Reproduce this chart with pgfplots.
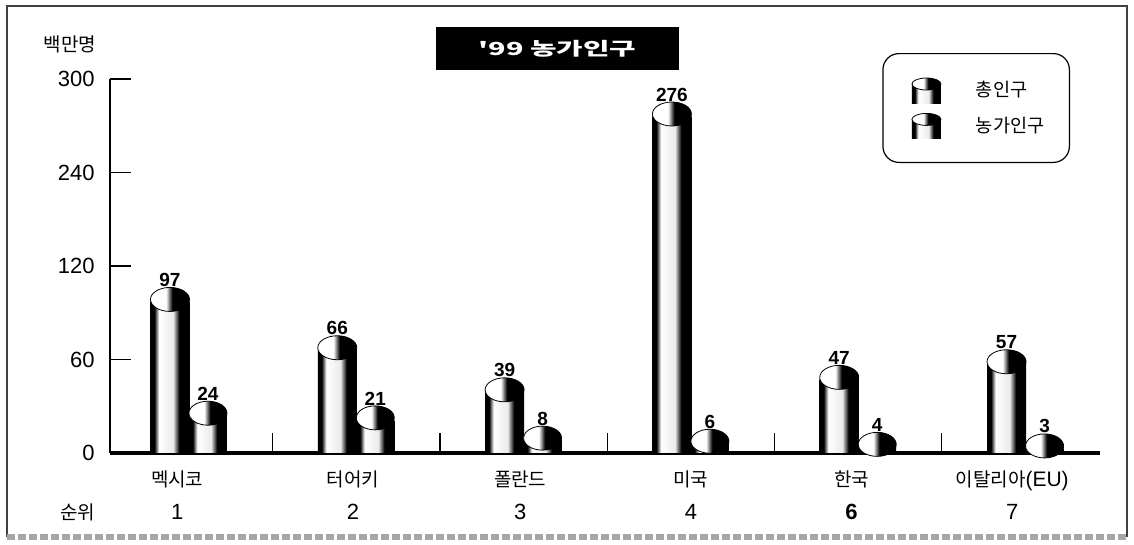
\documentclass[border=0pt]{standalone}
\usepackage{fontspec}
\setmainfont{Liberation Sans}
\newfontfamily\kr{Noto Sans CJK KR}
\usepackage{pgfplots}
\pgfplotsset{compat=1.18}
\usetikzlibrary{shapes.geometric}
\pgfdeclarehorizontalshading{cyl}{100bp}{color(0bp)=(black); color(30bp)=(black); color(36bp)=(white); color(54bp)=(white!92!black); color(62bp)=(black); color(100bp)=(black)}
\pgfdeclarehorizontalshading{capsh}{100bp}{color(0bp)=(white); color(45bp)=(white); color(53bp)=(black); color(100bp)=(black)}
\newcommand{\K}[1]{{\kr\fontsize{9.5}{11}\selectfont #1}}
\tikzset{
  capnode/.style={ellipse, draw=black, line width=0.4pt, shade, shading=capsh,
    minimum height=12pt, inner sep=0pt, yshift=-5pt, label distance=8.5pt,
    label={[font=\bfseries\fontsize{9.5}{11}\selectfont, inner sep=0pt, text=black]above:\pgfplotspointmeta}},
}
\pgfplotsset{
  cylbar/.style={ybar, draw=none, shade, shading=cyl, point meta=explicit symbolic,
    nodes near coords={\mbox{}}},
  totbar/.style={cylbar, bar width=19.5pt, bar shift=-9.5pt,
    every node near coord/.append style={capnode, minimum width=19.5pt, xshift=-9.5pt}},
  farmbar/.style={cylbar, bar width=19pt, bar shift=9.5pt,
    every node near coord/.append style={capnode, minimum width=19pt, xshift=9.5pt}},
  cylicon/.style={legend image code/.code={
    \path (-2pt,0pt) -- (32pt,0pt);
    \path[shade, shading=cyl, sharp corners] (0pt,-6.25pt) rectangle (14.5pt,3.25pt);
    \path[shade, shading=capsh, draw=black, line width=0.4pt] (7.25pt,3.25pt) ellipse [x radius=7.25pt, y radius=3pt];
  }},
}
\begin{document}
\begin{tikzpicture}
\useasboundingbox (-55pt,-46pt) rectangle (512pt,226.5pt);
\begin{axis}[
  at={(0pt,0pt)}, anchor=south west, scale only axis,
  width=495pt, height=187pt,
  xmin=-0.472, xmax=5.445,
  ymin=0, ymax=300,
  y coord trafo/.code={\pgfmathparse{((#1)<=120)?(#1):(((#1)<=240)?(120+((#1)-120)/2):((#1)-60))}},
  clip=false,
  axis lines*=left,
  x axis line style={line width=1.6pt},
  y axis line style={line width=0.6pt},
  tick style={line width=0.6pt, black},
  tick align=inside,
  major tick length=10.5pt,
  minor tick length=10pt,
  ytick={0,60,120,240,300},
  yticklabels={0,60,120,240,300},
  yticklabel style={font=\fontsize{11}{13}\selectfont, inner sep=0pt, xshift=-7.5pt},
  major x tick style={draw=none},
  minor xtick={0.5,1.5,2.5,3.5,4.5},
  xtick={-0.07,0.98,1.98,3,3.96,4.92},
  xticklabels={{\K{멕시코}\\1},{\K{터어키}\\2},{\K{폴란드}\\3},{\K{미국}\\4},{\K{한국}\\\textbf{6}},{\K{이탈리아}{\fontsize{10.5}{12}\selectfont(EU)}\\7}},
  xticklabel style={align=center, font=\fontsize{11}{16.5}\selectfont, inner sep=0pt, anchor=north, yshift=-8.5pt},
  legend style={at={(0.9697,1.0695)}, anchor=north east, draw=black, line width=0.6pt, rounded corners=8pt,
    inner xsep=12.5pt, inner ysep=12pt, row sep=5pt, nodes={inner sep=0pt},
    font=\kr\fontsize{9.3}{11}\selectfont, cells={anchor=west}},
]
% one plot per bar so that each bar gets its own shading
\addplot[totbar, cylicon] coordinates {(0,97) [97]};
\addlegendentry{총인구}
\addplot[farmbar, cylicon] coordinates {(0,24) [24]};
\addlegendentry{농가인구}
\addplot[totbar, forget plot] coordinates {(1,66) [66]};
\addplot[farmbar, forget plot] coordinates {(1,21) [21]};
\addplot[totbar, forget plot] coordinates {(2,39) [39]};
\addplot[farmbar, forget plot] coordinates {(2,8) [8]};
\addplot[totbar, forget plot] coordinates {(3,276) [276]};
\addplot[farmbar, forget plot] coordinates {(3,6) [6]};
\addplot[totbar, forget plot] coordinates {(4,47) [47]};
\addplot[farmbar, forget plot] coordinates {(4,4) [4]};
\addplot[totbar, forget plot] coordinates {(5,57) [57]};
\addplot[farmbar, forget plot] coordinates {(5,3) [3]};
\end{axis}
\node[fill=black, text=white, minimum width=121.5pt, minimum height=21.5pt, inner sep=0pt] at (223.75pt,202.25pt)
  {\scalebox{1.6}[1]{\kr\bfseries\fontsize{9}{10}\selectfont '99 농가인구}};
\node[inner sep=0pt] at (-20pt,204.5pt) {\K{백만명}};
\node[inner sep=0pt] at (-16.25pt,-29.5pt) {\K{순위}};
\draw[black!75, line width=0.6pt] (-51.5pt,-42pt) -- (-51.5pt,223.5pt) -- (508.5pt,223.5pt) -- (508.5pt,-42pt);
\draw[black!35, line width=3pt, dash pattern=on 4pt off 1.5pt] (-51.5pt,-42pt) -- (508.5pt,-42pt);
\end{tikzpicture}
\end{document}
